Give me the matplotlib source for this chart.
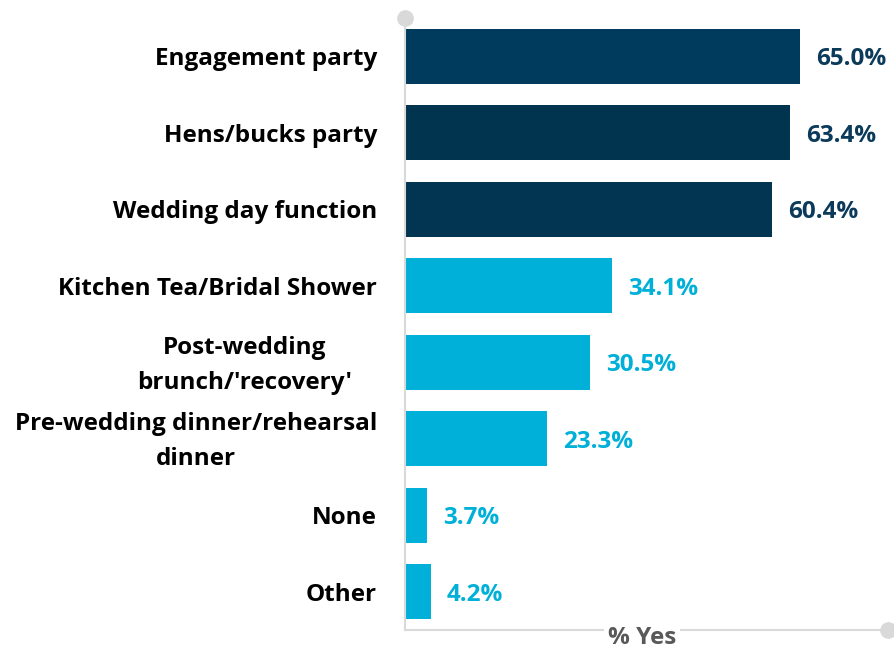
import matplotlib
matplotlib.use("Agg")
import matplotlib.pyplot as plt

categories = ["Engagement party", "Hens/bucks party", "Wedding day function",
              "Kitchen Tea/Bridal Shower", "Post-wedding\nbrunch/'recovery'",
              "Pre-wedding dinner/rehearsal\ndinner", "None", "Other"]
values = [65.0, 63.4, 60.4, 34.1, 30.5, 23.3, 3.7, 4.2]
colors = ["#003A5D", "#01354F", "#013552", "#00B0D8", "#00B0D8", "#00B0D8", "#00B0D8", "#00B0D8"]
label_colors = ["#0B3A5A", "#0B3A5A", "#0B3A5A", "#00B0D8", "#00B0D8", "#00B0D8", "#00B0D8", "#00B0D8"]
axis_title = "% Yes"

plt.rcParams['font.family'] = ['Open Sans', 'DejaVu Sans']
W, H = 894, 650
fig = plt.figure(figsize=(W/100, H/100), dpi=100)
left, right, top, bottom = 405, 888, 18, 630
ax = fig.add_axes([left/W, 1-bottom/H, (right-left)/W, (bottom-top)/H])
xmax = (right-left)/6.08
ax.set_xlim(0, xmax)
ax.set_ylim(len(categories)-0.5, -0.5)
ypos = list(range(len(categories)))
ax.barh(ypos, values, height=0.72, color=colors, zorder=2)

for s in ['top', 'right']:
    ax.spines[s].set_visible(False)
for s in ['left', 'bottom']:
    ax.spines[s].set_color('#D9D9D9')
    ax.spines[s].set_linewidth(1.5)
ax.set_xticks([])
ax.set_yticks([])

fs = 17.5
px = 0.72
for i, (c, v) in enumerate(zip(categories, values)):
    xoff = -28
    if c.startswith("Post"):
        xoff = -53
    ax.annotate(c, xy=(0, i), xycoords=('axes fraction', 'data'),
                xytext=(xoff*px, -3*px), textcoords='offset points',
                ha='right', va='center', multialignment='center',
                fontsize=fs, fontweight='bold', color='black', linespacing=1.6)
    ax.annotate(f"{v:.1f}%", xy=(v, i), xytext=(16*px, -3*px), textcoords='offset points',
                ha='left', va='center', fontsize=fs, fontweight='bold', color=label_colors[i])

# circles at axis ends
ax.plot([0], [-0.5], marker='o', markersize=11, color='#D9D9D9', clip_on=False, zorder=5)
ax.plot([xmax], [len(categories)-0.5], marker='o', markersize=11, color='#D9D9D9', clip_on=False, zorder=5)

ax.text((642-left)/(right-left), 1-(638-top)/(bottom-top), axis_title, transform=ax.transAxes,
        ha='center', va='center', fontsize=fs, fontweight='bold', color='#595959',
        bbox=dict(facecolor='white', edgecolor='none', pad=3), zorder=6)

fig.savefig("out.png", dpi=100)
